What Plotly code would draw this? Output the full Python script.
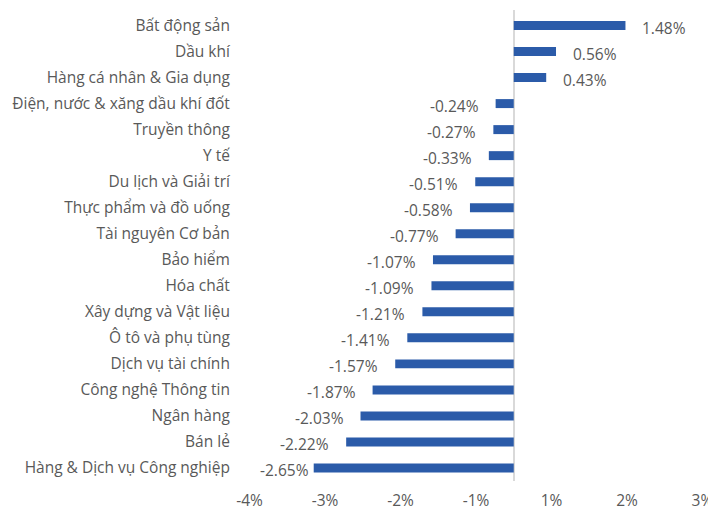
import plotly.graph_objects as go

categories = ["Bất động sản", "Dầu khí", "Hàng cá nhân & Gia dụng", "Điện, nước & xăng dầu khí đốt",
              "Truyền thông", "Y tế", "Du lịch và Giải trí", "Thực phẩm và đồ uống",
              "Tài nguyên Cơ bản", "Bảo hiểm", "Hóa chất", "Xây dựng và Vật liệu",
              "Ô tô và phụ tùng", "Dịch vụ tài chính", "Công nghệ Thông tin", "Ngân hàng",
              "Bán lẻ", "Hàng & Dịch vụ Công nghiệp"]
values = [1.48, 0.56, 0.43, -0.24, -0.27, -0.33, -0.51, -0.58, -0.77, -1.07, -1.09, -1.21,
          -1.41, -1.57, -1.87, -2.03, -2.22, -2.65]
tick_vals = [-3.5, -2.5, -1.5, -0.5, 0.5, 1.5, 2.5]
tick_text = ["-4%", "-3%", "-2%", "-1%", "1%", "2%", "3%"]

FONT = "Open Sans"
TXT = "#595959"
FS = 15.5

fig = go.Figure(go.Bar(
    x=values, y=categories, orientation="h",
    marker=dict(color="#2B5BA9", line=dict(width=0)),
))

min_val = min(values)
for c, v in zip(categories, values):
    gap = 3 if v == min_val else 15
    fig.add_annotation(
        x=v, y=c, text=f"{v:.2f}%", showarrow=False,
        xanchor="left" if v >= 0 else "right",
        xshift=gap if v >= 0 else -gap, yshift=-2.5,
        font=dict(family=FONT, size=FS, color=TXT),
    )

fig.update_layout(
    width=708, height=505,
    margin=dict(l=234, r=6, t=2, b=32, autoexpand=False),
    paper_bgcolor="white", plot_bgcolor="white",
    bargap=0.655, showlegend=False,
    font=dict(family=FONT, size=FS, color=TXT),
    xaxis=dict(range=[-3.6, 2.6], tickvals=tick_vals, ticktext=tick_text, automargin=False,
               showgrid=False, zeroline=True, zerolinecolor="#D9D9D9", zerolinewidth=1.5,
               showline=False, ticks="outside", ticklen=5, tickcolor="rgba(0,0,0,0)",
               tickfont=dict(family=FONT, size=FS, color=TXT)),
    yaxis=dict(autorange="reversed", showgrid=False, showline=False, automargin=False,
               ticks="outside", ticklen=8, tickcolor="rgba(0,0,0,0)",
               tickfont=dict(family=FONT, size=FS, color=TXT)),
)

fig.write_html("out.html")
